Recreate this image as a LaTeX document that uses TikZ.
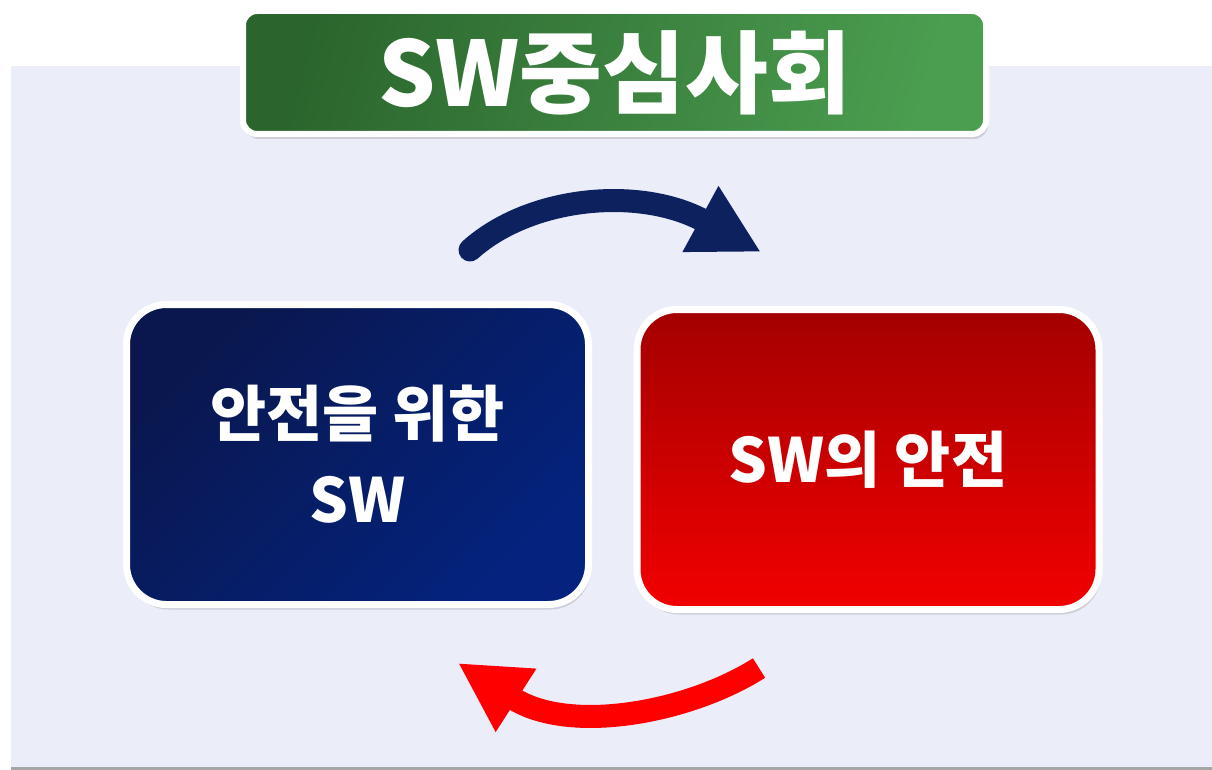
\documentclass[tikz,border=0pt]{standalone}
\usepackage{fontspec}
\setmainfont{Noto Sans CJK KR}
\usetikzlibrary{arrows.meta}
\usetikzlibrary{shadows}
\definecolor{PanelColor}{HTML}{EBEDF9}
\definecolor{GreenDark}{HTML}{2B652D}
\definecolor{GreenLight}{HTML}{4B9D50}
\definecolor{BlueDark}{HTML}{0A174E}
\definecolor{BlueLight}{HTML}{03237E}
\definecolor{RedDark}{HTML}{A30000}
\definecolor{RedLight}{HTML}{F30000}
\definecolor{ArrowBlue}{HTML}{0C215E}
\tikzstyle{SoftShadow}=[drop shadow={opacity=0.28, shadow xshift=2pt, shadow yshift=-5pt}]
\tikzstyle{TitleNode}=[rectangle, rounded corners=14pt, draw=white, line width=6pt, minimum width=743pt, minimum height=123pt, text=white, font=\fontsize{90pt}{100pt}\selectfont\bfseries, top color=GreenDark, bottom color=GreenLight, shading angle=75, SoftShadow]
\tikzstyle{BoxNode}=[rectangle, rounded corners=40pt, draw=white, line width=7pt, minimum width=462pt, minimum height=300pt, text=white, align=center, font=\fontsize{61pt}{86pt}\selectfont\bfseries, SoftShadow]
\tikzstyle{BlueBox}=[BoxNode, top color=BlueDark, bottom color=BlueLight, shading angle=45]
\tikzstyle{RedBox}=[BoxNode, top color=RedDark, bottom color=RedLight]
\tikzstyle{CycleEdge}=[line width=23pt, -{Triangle[length=69pt, width=70pt]}]
\tikzstyle{BlueEdge}=[CycleEdge, ArrowBlue, line cap=round]
\tikzstyle{RedEdge}=[CycleEdge, red]

\begin{document}
\begin{tikzpicture}[x=1pt, y=-1pt]
\useasboundingbox (0,0) rectangle (1212,770);
\fill[black!35] (11,69) rectangle (1212,770);
\fill[PanelColor] (11,66) rectangle (1212,767);

\node[TitleNode](Title) at (614.5,72.5) {SW중심사회};
\node[BlueBox](SafetySW) at (357.5,454.5) {안전을 위한\\SW};
\node[RedBox](SWSafety) at (868,459.5) {SW의 안전};

\coordinate (BlueTail) at (470,250);
\coordinate (BlueTip) at (761,252);
\coordinate (RedTail) at (759,668);
\coordinate (RedTip) at (458,663);

\draw[BlueEdge](BlueTail) .. controls (530,196) and (640,186) .. (BlueTip);
\draw[RedEdge](RedTail) .. controls (690,712) and (570,735) .. (RedTip);
\end{tikzpicture}
\end{document}
